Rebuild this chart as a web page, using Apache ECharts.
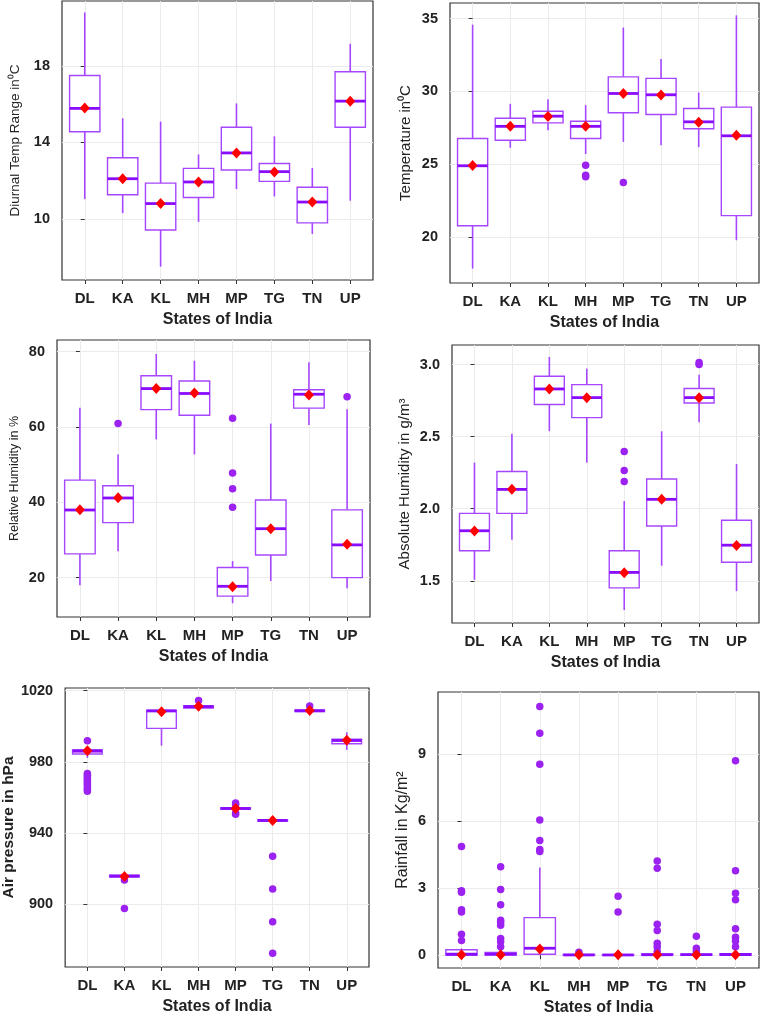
<!DOCTYPE html>
<html>
<head>
<meta charset="utf-8">
<script src="https://cdn.jsdelivr.net/npm/echarts@6/dist/echarts.min.js"></script>
<style>
html,body{margin:0;padding:0;background:#fff;}
#chart{width:762px;height:1017px;}
</style>
</head>
<body>
<div id="chart"></div>
<script>
const categories = ['DL', 'KA', 'KL', 'MH', 'MP', 'TG', 'TN', 'UP'];

// Each box row: [lower whisker, Q1, median, Q3, upper whisker]
const dtrBox = [
  [11.03, 14.56, 15.78, 17.50, 20.80],
  [10.30, 11.26, 12.10, 13.20, 15.26],
  [7.50, 9.42, 10.80, 11.87, 15.09],
  [9.84, 11.12, 11.93, 12.64, 13.37],
  [11.56, 12.56, 13.45, 14.79, 16.04],
  [11.17, 11.96, 12.47, 12.90, 14.32],
  [9.21, 9.79, 10.88, 11.65, 12.66],
  [10.95, 14.79, 16.16, 17.70, 19.16]
];
const dtrMean = [15.8, 12.1, 10.8, 11.93, 13.45, 12.45, 10.88, 16.16];
const dtrOut = [[], [], [], [], [], [], [], []];
const dtrTicks = [10, 14, 18];
const dtrTickLabels = ['10', '14', '18'];

const tempBox = [
  [17.82, 20.77, 24.89, 26.76, 34.59],
  [26.13, 26.64, 27.60, 28.16, 29.15],
  [27.33, 27.84, 28.30, 28.64, 29.47],
  [25.70, 26.76, 27.60, 27.95, 29.06],
  [26.53, 28.53, 29.86, 31.00, 34.39],
  [26.30, 28.41, 29.77, 30.90, 32.23],
  [26.17, 27.43, 27.91, 28.83, 29.93],
  [19.77, 21.46, 26.95, 28.92, 35.23]
];
const tempMean = [24.9, 27.6, 28.28, 27.6, 29.85, 29.75, 27.88, 26.98];
const tempOut = [[], [], [], [24.93, 24.24, 24.13], [23.74], [], [], []];
const tempTicks = [20, 25, 30, 35];
const tempTickLabels = ['20', '25', '30', '35'];

const rhBox = [
  [17.96, 26.3, 37.96, 45.9, 65.1],
  [27.0, 34.6, 41.15, 44.4, 52.7],
  [56.7, 64.6, 70.2, 73.6, 79.4],
  [52.7, 63.1, 68.9, 72.2, 77.6],
  [13.2, 15.1, 17.7, 22.7, 24.4],
  [19.1, 26.0, 33.0, 40.6, 60.9],
  [60.5, 65.0, 68.7, 69.9, 77.2],
  [17.2, 20.0, 28.7, 38.0, 64.7]
];
const rhMean = [38.0, 41.2, 70.2, 69.0, 17.6, 33.0, 68.5, 28.9];
const rhOut = [[], [60.9], [], [], [62.3, 47.8, 43.6, 38.7], [], [], [68.0]];
const rhTicks = [20, 40, 60, 80];
const rhTickLabels = ['20', '40', '60', '80'];

const ahBox = [
  [1.507, 1.708, 1.847, 1.968, 2.320],
  [1.784, 1.968, 2.134, 2.258, 2.520],
  [2.538, 2.723, 2.831, 2.919, 3.053],
  [2.320, 2.632, 2.771, 2.861, 2.972],
  [1.297, 1.451, 1.558, 1.708, 2.053],
  [1.604, 1.880, 2.065, 2.206, 2.537],
  [2.600, 2.734, 2.771, 2.834, 2.930],
  [1.428, 1.629, 1.747, 1.920, 2.310]
];
const ahMean = [1.845, 2.135, 2.83, 2.77, 1.555, 2.065, 2.77, 1.745];
const ahOut = [[], [], [], [], [2.397, 2.265, 2.189], [], [3.014, 3.0], []];
const ahTicks = [1.5, 2.0, 2.5, 3.0];
const ahTickLabels = ['1.5', '2.0', '2.5', '3.0'];

const apBox = [
  [982.2, 984.4, 986.0, 986.8, 988.5],
  [914.5, 915.2, 915.8, 916.3, 917.2],
  [989.1, 998.8, 1008.6, 1009.0, 1010.0],
  [1009.5, 1010.3, 1011.0, 1011.6, 1013.0],
  [952.5, 953.3, 953.8, 954.2, 955.2],
  [945.8, 946.6, 947.1, 947.5, 948.3],
  [1007.5, 1008.2, 1008.7, 1009.2, 1010.3],
  [986.7, 990.2, 992.0, 992.7, 996.6]
];
const apMean = [986.3, 915.6, 1008.2, 1011.2, 953.8, 947.1, 1008.8, 992.1];
const apOut = [
  [991.9, 973.5, 972.5, 971.5, 970.5, 969.5, 968.5, 967.5, 966.5, 965.5, 964.5, 963.5],
  [913.6, 897.6],
  [],
  [1014.5],
  [956.9, 955.9, 951.3, 950.5],
  [927.0, 908.5, 890.1, 872.4],
  [1011.4],
  []
];
const apTicks = [900, 940, 980, 1020];
const apTickLabels = ['900', '940', '980', '1020'];

const rainBox = [
  [0, 0, 0.04, 0.24, 0.30],
  [0, 0, 0.05, 0.12, 0.25],
  [0, 0.04, 0.31, 1.68, 3.92],
  [0, 0, 0.01, 0.03, 0.06],
  [0, 0, 0.01, 0.02, 0.04],
  [0, 0, 0.02, 0.05, 0.10],
  [0, 0, 0.02, 0.04, 0.08],
  [0, 0, 0.03, 0.06, 0.12]
];
const rainMean = [0.02, 0.02, 0.28, 0.02, 0.02, 0.02, 0.02, 0.02];
const rainOut = [
  [4.86, 2.88, 2.81, 2.03, 1.93, 0.94, 0.66],
  [3.95, 2.94, 2.26, 1.56, 1.46, 1.34, 0.75, 0.60, 0.38],
  [11.12, 9.93, 8.54, 6.05, 5.13, 4.73, 4.64],
  [0.13],
  [2.64, 1.93],
  [4.21, 3.89, 1.38, 1.10, 0.53, 0.38, 0.16],
  [0.85, 0.31, 0.16],
  [8.70, 3.77, 2.77, 2.48, 1.18, 0.80, 0.63, 0.38]
];
const rainTicks = [0, 3, 6, 9];
const rainTickLabels = ['0', '3', '6', '9'];

// ---------- layout / style ----------
const FONT = "'Liberation Sans', Arial, sans-serif";
const BOX_COLOR = '#a647ff';
const MED_COLOR = '#8a0cff';
const OUT_COLOR = '#9b22f0';
const MEAN_COLOR = '#ff0000';
const BOX_W = 0.8;

const panels = [
  {box: dtrBox, mean: dtrMean, out: dtrOut, ticks: dtrTicks, labels: dtrTickLabels,
   grid: {left: 62, top: 1, width: 311, height: 279}, min: 6.8, max: 21.4, step: 2,
   name: 'Diurnal Temp Range in\u2070C', nameSize: 13.5, nameBold: false, nameGap: 40},
  {box: tempBox, mean: tempMean, out: tempOut, ticks: tempTicks, labels: tempTickLabels,
   grid: {left: 450, top: 3, width: 309, height: 280}, min: 16.83, max: 36.08, step: 2.5,
   name: 'Temperature in\u2070C', nameSize: 15, nameBold: false, nameGap: 37},
  {box: rhBox, mean: rhMean, out: rhOut, ticks: rhTicks, labels: rhTickLabels,
   grid: {left: 57, top: 340, width: 313, height: 277}, min: 9.55, max: 83.1, step: 10,
   name: 'Relative Humidity in %', nameSize: 12.5, nameBold: false, nameGap: 36},
  {box: ahBox, mean: ahMean, out: ahOut, ticks: ahTicks, labels: ahTickLabels,
   grid: {left: 452, top: 345, width: 307, height: 278}, min: 1.207, max: 3.136, step: 0.25,
   name: 'Absolute Humidity in g/m\u00b3', nameSize: 15, nameBold: false, nameGap: 40},
  {box: apBox, mean: apMean, out: apOut, ticks: apTicks, labels: apTickLabels,
   grid: {left: 64, top: 688, width: 305, height: 279}, min: 864.7, max: 1021.5, step: 20,
   name: 'Air pressure in hPa', nameSize: 15.5, nameBold: true, nameGap: 47},
  {box: rainBox, mean: rainMean, out: rainOut, ticks: rainTicks, labels: rainTickLabels,
   grid: {left: 438, top: 692, width: 321, height: 280}, min: -0.574, max: 11.77, step: 1.5,
   name: 'Rainfall in Kg/m\u00b2', nameSize: 16, nameBold: false, nameGap: 27}
];

function renderBox(params, api) {
  const x = api.value(0);
  const pLow = api.coord([x, api.value(1)]);
  const pQ1 = api.coord([x, api.value(2)]);
  const pMed = api.coord([x, api.value(3)]);
  const pQ3 = api.coord([x, api.value(4)]);
  const pHigh = api.coord([x, api.value(5)]);
  const half = api.size([1, 0])[0] * BOX_W / 2;
  const cx = pMed[0];
  return {
    type: 'group',
    children: [
      {type: 'line', shape: {x1: cx, y1: pQ3[1], x2: cx, y2: pHigh[1]}, style: {stroke: BOX_COLOR, lineWidth: 1.6}},
      {type: 'line', shape: {x1: cx, y1: pQ1[1], x2: cx, y2: pLow[1]}, style: {stroke: BOX_COLOR, lineWidth: 1.6}},
      {type: 'rect', shape: {x: cx - half, y: pQ3[1], width: 2 * half, height: pQ1[1] - pQ3[1]},
       style: {fill: '#ffffff', stroke: BOX_COLOR, lineWidth: 1.4}},
      {type: 'line', shape: {x1: cx - half, y1: pMed[1], x2: cx + half, y2: pMed[1]},
       style: {stroke: MED_COLOR, lineWidth: 2.8}}
    ]
  };
}

const catIdx = categories.map((c, i) => i);
const grids = [], xAxes = [], yAxes = [], series = [];

panels.forEach((p, k) => {
  grids.push(Object.assign({show: true, borderColor: '#333', borderWidth: 1.2, backgroundColor: '#fff'}, p.grid));
  xAxes.push({
    gridIndex: k, type: 'value', min: -0.6, max: 7.6, minInterval: 1, maxInterval: 1,
    axisLine: {show: false},
    axisTick: {show: true, length: 4, lineStyle: {color: '#333', width: 1}, customValues: catIdx},
    axisLabel: {
      customValues: catIdx, margin: 11, fontFamily: FONT, fontWeight: 'bold', fontSize: 15, color: '#222',
      formatter: v => (Math.abs(v - Math.round(v)) < 1e-6 && categories[Math.round(v)]) ? categories[Math.round(v)] : ''
    },
    splitLine: {show: true, lineStyle: {color: '#ebebeb', width: 1}},
    name: 'States of India', nameLocation: 'middle', nameGap: 32,
    nameTextStyle: {fontFamily: FONT, fontWeight: 'bold', fontSize: 16, color: '#222'}
  });
  yAxes.push({
    gridIndex: k, type: 'value', min: p.min, max: p.max, minInterval: p.step, maxInterval: p.step,
    axisLine: {show: false},
    axisTick: {show: true, length: 4, lineStyle: {color: '#333', width: 1}, customValues: p.ticks},
    axisLabel: {
      customValues: p.ticks, margin: 12, fontFamily: FONT, fontWeight: 'bold', fontSize: 14.5, color: '#222',
      formatter: v => {
        const i = p.ticks.findIndex(t => Math.abs(t - v) < 1e-6);
        return i >= 0 ? p.labels[i] : '';
      }
    },
    splitLine: {show: true, lineStyle: {color: '#ebebeb', width: 1}},
    name: p.name, nameLocation: 'middle', nameRotate: 90, nameGap: p.nameGap,
    nameTextStyle: {fontFamily: FONT, fontWeight: p.nameBold ? 'bold' : 'normal', fontSize: p.nameSize, color: '#222'}
  });
  series.push({
    type: 'custom', xAxisIndex: k, yAxisIndex: k, renderItem: renderBox,
    encode: {x: 0, y: [1, 2, 3, 4, 5]}, z: 2, silent: true,
    data: p.box.map((b, i) => [i].concat(b))
  });
  const outData = [];
  p.out.forEach((arr, i) => arr.forEach(v => outData.push([i, v])));
  series.push({
    type: 'scatter', xAxisIndex: k, yAxisIndex: k, symbol: 'circle', symbolSize: 7.5, z: 3, silent: true,
    itemStyle: {color: OUT_COLOR, opacity: 1}, data: outData
  });
  series.push({
    type: 'scatter', xAxisIndex: k, yAxisIndex: k, symbol: 'diamond', symbolSize: [10, 11], z: 4, silent: true,
    itemStyle: {color: MEAN_COLOR, opacity: 1}, data: p.mean.map((m, i) => [i, m])
  });
});

const chart = echarts.init(document.getElementById('chart'), null, {renderer: 'canvas'});
chart.setOption({
  animation: false,
  backgroundColor: '#fff',
  textStyle: {fontFamily: FONT},
  grid: grids, xAxis: xAxes, yAxis: yAxes, series: series
});
</script>
</body>
</html>
